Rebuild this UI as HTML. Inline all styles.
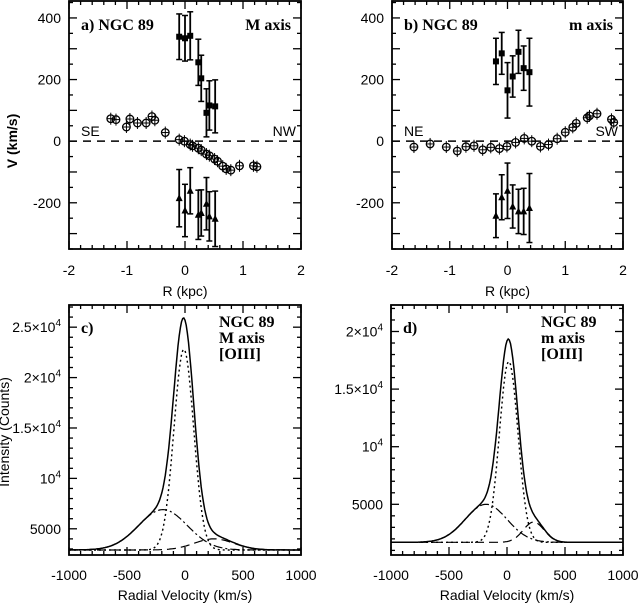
<!DOCTYPE html>
<html><head><meta charset="utf-8"><style>
html,body{margin:0;padding:0;background:#fff;}
svg{display:block;}
text{font-family:"Liberation Sans",sans-serif;fill:#000;}
.tk{font-size:14px;}
.lbl{font-family:"Liberation Serif",serif;font-weight:bold;font-size:16px;}
</style></head><body>
<svg id="chart" width="639" height="605" viewBox="0 0 639 605" xmlns="http://www.w3.org/2000/svg"></svg>
<script>
// ---------- data: panel a (major axis) ----------
const aCircR=[-1.28,-1.19,-1.01,-0.95,-0.82,-0.67,-0.57,-0.52,-0.34,-0.10,-0.01,0.09,0.13,0.23,0.28,0.37,0.42,0.51,0.56,0.65,0.71,0.79,0.94,1.18,1.24];
const aCircV=[73,70,46,72,59,59,80,68,28,5,0,-11,-15,-23,-29,-42,-47,-58,-65,-81,-90,-94,-80,-80,-83];
const aSqR=[-0.10,0.0,0.09,0.23,0.28,0.37,0.42,0.52];
const aSqV=[339,334,342,256,204,92,116,113];
const aSqE=[74,74,78,75,75,78,80,86];
const aTriR=[-0.10,0.0,0.09,0.23,0.28,0.37,0.42,0.52];
const aTriV=[-185,-225,-161,-239,-233,-203,-244,-252];
const aTriE=[93,85,75,80,75,85,80,90];
// ---------- data: panel b (minor axis) ----------
const bCircR=[-1.62,-1.34,-1.06,-0.87,-0.72,-0.58,-0.43,-0.29,-0.14,-0.01,0.14,0.29,0.42,0.57,0.71,0.86,1.0,1.13,1.19,1.38,1.42,1.55,1.8,1.84];
const bCircV=[-19,-9,-19,-32,-18,-15,-28,-20,-24,-17,-4,9,0,-17,-11,8,29,45,58,76,82,89,71,61];
const bSqR=[-0.2,-0.1,0.0,0.09,0.19,0.28,0.38];
const bSqV=[259,285,165,210,290,237,224];
const bSqE=[75,68,90,67,70,72,110];
const bTriR=[-0.2,-0.1,0.0,0.09,0.19,0.28,0.38];
const bTriV=[-242,-182,-161,-212,-228,-228,-217];
const bTriE=[71,73,90,70,72,75,112];
// ---------- line profile fit components [amp, center, sigma] ----------
const cBase=2900;
const cNarrow=[19900,-10,85];
const cBroad=[4000,-190,210];
const cRed=[1100,250,170];
const dBase=1700;
const dNarrow=[15700,15,80];
const dBroad=[3300,-180,180];
const dRed=[1760,230,90];
const topXTicks=[-2,-1,0,1,2];
const topYTicks=[-200,0,200,400];
const botXTicks=[-1000,-500,0,500,1000];
const cYTicks=[5000,10000,15000,20000,25000];
const dYTicks=[5000,10000,15000,20000];

const NS="http://www.w3.org/2000/svg";
const svg=document.getElementById('chart');
function mk(tag,attrs,parent){const e=document.createElementNS(NS,tag);for(const k in attrs)e.setAttribute(k,attrs[k]);(parent||svg).appendChild(e);return e;}
function ln(x1,y1,x2,y2,p,extra){const e=mk('line',Object.assign({x1,y1,x2,y2,stroke:'#000','stroke-width':1.3},extra||{}),p);return e;}

function makeAxis(x0,x1,xmin,xmax,y0,y1,ymin,ymax){
  return {x:v=>x0+(v-xmin)/(xmax-xmin)*(x1-x0), y:v=>y1-(v-ymin)/(ymax-ymin)*(y1-y0), x0,x1,y0,y1,xmin,xmax,ymin,ymax};
}
function frame(ax,g,xMinor,yMinor,xMajor,yMajor){
  const r=mk('rect',{x:ax.x0,y:ax.y0,width:ax.x1-ax.x0,height:ax.y1-ax.y0,fill:'none',stroke:'#000','stroke-width':1.8},g);
  
  
  for(let v=Math.ceil(ax.xmin/xMinor)*xMinor;v<=ax.xmax+1e-9;v+=xMinor){
    const big=Math.abs(v/xMajor-Math.round(v/xMajor))<1e-6;const L=big?8:4;const X=ax.x(v);
    ln(X,ax.y1,X,ax.y1-L,g);ln(X,ax.y0,X,ax.y0+L,g);
  }
  for(let v=Math.ceil(ax.ymin/yMinor)*yMinor;v<=ax.ymax+1e-9;v+=yMinor){
    const big=Math.abs(v/yMajor-Math.round(v/yMajor))<1e-6;const L=big?8:4;const Y=ax.y(v);
    ln(ax.x0,Y,ax.x0+L,Y,g);ln(ax.x1,Y,ax.x1-L,Y,g);
  }
}
function txt(x,y,s,cls,anchor,p){const t=mk('text',{x,y,class:cls,'text-anchor':anchor||'middle'},p);t.textContent=s;return t;}
function pow4(x,y,mant,p,name){
  const t=mk('text',{x,y,class:'tk','text-anchor':'end'},p);
  
  
  t.appendChild(document.createTextNode(mant));
  const s=document.createElementNS(NS,'tspan');s.setAttribute('dy','-6');s.setAttribute('font-size','10');s.textContent='4';t.appendChild(s);
}

function topPanel(id,x0,x1,circR,circV,sqR,sqV,sqE,triR,triV,triE,title,axisName,lblL,lblR){
  const g=mk('g',{});
  
  
  const ax=makeAxis(x0,x1,-2,2,1,249,-350,455);
  frame(ax,g,0.2,50,1,100);
  const d=ln(ax.x0,ax.y(0),ax.x1,ax.y(0),g,{'stroke-dasharray':'8,6','stroke-width':1.5});
  
  
  topXTicks.forEach(v=>{const t=txt(ax.x(v),275,String(v),'tk','middle',g);});
  topYTicks.forEach(v=>{const t=txt(ax.x0-8,ax.y(v)+5,String(v),'tk','end',g);});
  const xt=txt((x0+x1)/2,296,'R (kpc)','tk','middle',g);
  
  
  let t=txt(x0+12,30,title,'lbl','start',g);
  
  
  t=txt(x1-10,30,axisName,'lbl','end',g);
  
  
  t=txt(x0+12,136,lblL,'tk','start',g);
  
  
  t=txt(x1-5,136,lblR,'tk','end',g);
  
  
  circR.forEach((r,i)=>{
    const X=ax.x(r),Y=ax.y(circV[i]);
    ln(X,Y-6,X,Y+6,g,{'stroke-width':1});
    const c=mk('circle',{cx:X,cy:Y,r:3.8,fill:'none',stroke:'#000','stroke-width':1.3},g);
    
    
    ln(X-3.8,Y,X+3.8,Y,g,{'stroke-width':1});
  });
  function ebar(X,v,e){ln(X,ax.y(v+e),X,ax.y(v-e),g,{'stroke-width':1.8});ln(X-3,ax.y(v+e),X+3,ax.y(v+e),g,{'stroke-width':1.5});ln(X-3,ax.y(v-e),X+3,ax.y(v-e),g,{'stroke-width':1.5});}
  sqR.forEach((r,i)=>{const X=ax.x(r),Y=ax.y(sqV[i]);ebar(X,sqV[i],sqE[i]);
    const s=mk('rect',{x:X-3,y:Y-3,width:6,height:6,fill:'#000'},g);
    
    });
  triR.forEach((r,i)=>{const X=ax.x(r),Y=ax.y(triV[i]);ebar(X,triV[i],triE[i]);
    const p=mk('polygon',{points:`${X},${Y-4} ${X-3.5},${Y+3} ${X+3.5},${Y+3}`,fill:'#000'},g);
    
    });
}
topPanel('a',69,301,aCircR,aCircV,aSqR,aSqV,aSqE,aTriR,aTriV,aTriE,'a) NGC 89','M axis','SE','NW');
topPanel('b',392,623,bCircR,bCircV,bSqR,bSqV,bSqE,bTriR,bTriV,bTriE,'b) NGC 89','m axis','NE','SW');
const yt=mk('text',{x:0,y:0,class:'tk','text-anchor':'middle','font-weight':'bold',transform:'translate(17,141) rotate(-90)'});


yt.textContent='V (km/s)';

function gauss(p,v){return p[0]*Math.exp(-(v-p[1])*(v-p[1])/(2*p[2]*p[2]));}
function botPanel(id,x0,x1,ymin,ymax,yTicks,yTickLabels,base,nar,bro,red,lines){
  const g=mk('g',{});
  
  
  const ax=makeAxis(x0,x1,-1000,1000,305,555,ymin,ymax);
  frame(ax,g,100,1000,500,5000);
  botXTicks.forEach(v=>{const t=txt(ax.x(v),580,String(v),'tk','middle',g);});
  yTicks.forEach((v,i)=>{const l=yTickLabels[i];const Y=ax.y(v)+5;
    if(l[1])pow4(ax.x0-8,Y,l[0],g,'y-tick-label');else{const t=txt(ax.x0-8,Y,l[0],'tk','end',g);}});
  const xt=txt((x0+x1)/2,600,'Radial Velocity (km/s)','tk','middle',g);
  
  
  lines.forEach((s,i)=>{const t=txt(x0+150,327+i*16,s,'lbl','start',g);});
  const pl=txt(x0+12,333,id+')','lbl','start',g);
  
  
  function path(f,dash,name,w){let d='';for(let v=-1000;v<=1000;v+=10){d+=(v==-1000?'M':'L')+ax.x(v).toFixed(1)+','+ax.y(f(v)).toFixed(1);}
    const p=mk('path',{d,fill:'none',stroke:'#000','stroke-width':w,'stroke-dasharray':dash},g);
    
    }
  path(v=>base+gauss(red,v),'9,5','red-component',1.2);
  path(v=>base+gauss(bro,v),'9,3,2,3','broad-component',1.2);
  path(v=>base+gauss(nar,v),'2,3','narrow-component',1.4);
  path(v=>base+gauss(nar,v)+gauss(bro,v)+gauss(red,v),'none','total-profile',1.5);
}
botPanel('c',69,301,2400,27200,cYTicks,[['5000',0],['10',1],['1.5×10',1],['2×10',1],['2.5×10',1]],cBase,cNarrow,cBroad,cRed,['NGC 89','M axis','[OIII]']);
botPanel('d',391,623,600,22300,dYTicks,[['5000',0],['10',1],['1.5×10',1],['2×10',1]],dBase,dNarrow,dBroad,dRed,['NGC 89','m axis','[OIII]']);
const it=mk('text',{x:0,y:0,class:'tk','text-anchor':'middle',transform:'translate(9,432) rotate(-90)'});


it.textContent='Intensity (Counts)';
</script>
</body></html>
